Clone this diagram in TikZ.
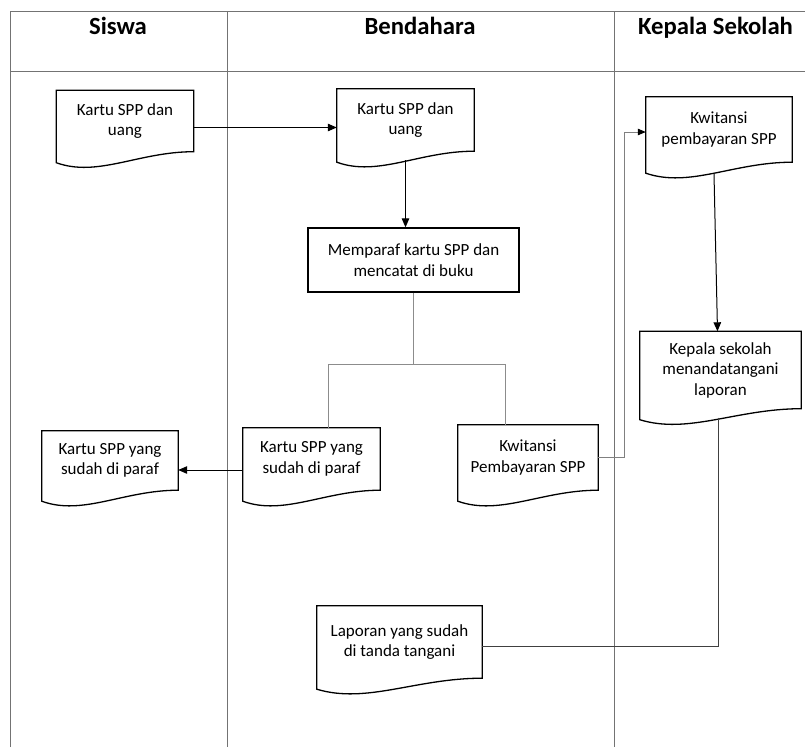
\documentclass[tikz,border=0pt]{standalone}
\usepackage{fontspec}
\setmainfont{Carlito}
\usetikzlibrary{arrows.meta,calc}
\tikzset{
  frameline/.style={draw=black!55,line width=0.9pt},
  docline/.style={draw=black,line width=1.3pt,line join=miter},
  doctext/.style={rectangle,draw=none,inner sep=0pt,align=center,font=\fontsize{17}{20.5}\selectfont},
  procbox/.style={rectangle,draw=black,line width=1.3pt,inner sep=0pt,align=center,font=\fontsize{17}{20.5}\selectfont},
  headtext/.style={anchor=base,font=\bfseries\fontsize{24.7}{29}\selectfont},
  arr/.style={draw=black,line width=1pt,-{Triangle[length=9pt,width=7.5pt]}},
  grayarr/.style={draw=black!50,line width=1pt,-{Triangle[length=8pt,width=6.5pt,color=black]}},
  branch/.style={draw=black!45,line width=0.9pt},
  plainline/.style={draw=black!75,line width=1pt}
}
\newcommand{\wavydoc}[1]{%
  \draw[docline] let \p1=(#1.south west), \p2=(#1.north east) in
    (\x1,\y1-11pt) -- (\x1,\y2) -- (\x2,\y2) -- (\x2,\y1)
    .. controls ({\x2-0.4*(\x2-\x1)},\y1) and ({\x1+0.3*(\x2-\x1)},\y1-26pt) .. (\x1,\y1-11pt) -- cycle;
}
\begin{document}
\begin{tikzpicture}[x=1pt,y=-1pt]
\useasboundingbox (0,0) rectangle (805,747);
% frame
\draw[frameline] (10,747) -- (10,11) -- (805,11);
\draw[frameline] (10,71) -- (805,71);
\draw[frameline] (227,11) -- (227,747);
\draw[frameline] (614,11) -- (614,747);
\node[headtext] (h1) at (118,34) {Siswa};
\node[headtext] (h2) at (420,34) {Bendahara};
\node[headtext] (h3) at (715.5,34) {Kepala Sekolah};
% documents
\node[doctext,minimum width=137pt,minimum height=61pt] (s1) at (125,121) {Kartu SPP dan\\uang};
\node[doctext,minimum width=137pt,minimum height=62pt] (b1) at (405.5,120) {Kartu SPP dan\\uang};
\node[procbox,minimum width=211pt,minimum height=64pt] (p1) at (413.5,260) {Memparaf kartu SPP dan\\mencatat di buku};
\node[doctext,minimum width=146pt,minimum height=65pt] (k1) at (719,129.5) {Kwitansi\\pembayaran SPP};
\node[doctext,minimum width=161pt,minimum height=77pt] (k2) at (720.5,370) {Kepala sekolah\\menandatangani\\laporan};
\node[doctext,minimum width=136pt,minimum height=59pt] (s2) at (110,460.5) {Kartu SPP yang\\sudah di paraf};
\node[doctext,minimum width=137pt,minimum height=62pt] (b2) at (311.5,459) {Kartu SPP yang\\sudah di paraf};
\node[doctext,minimum width=140pt,minimum height=65pt] (b3) at (528,457.5) {Kwitansi\\Pembayaran SPP};
\node[doctext,minimum width=165pt,minimum height=72pt] (b4) at (399.5,642) {Laporan yang sudah\\di tanda tangani};
\wavydoc{s1}
\wavydoc{b1}
\wavydoc{k1}
\wavydoc{k2}
\wavydoc{s2}
\wavydoc{b2}
\wavydoc{b3}
\wavydoc{b4}
% connectors
\draw[arr] ([yshift=-6.5pt]s1.east) -- ([yshift=-7.5pt]b1.west);
\draw[arr] ([yshift=-9pt]b1.south) -- (b1.south |- p1.north);
\coordinate (jl) at (328,364);
\coordinate (jr) at (505,364);
\draw[branch] (p1.south) -- (p1.south |- jl);
\draw[branch] (jl) -- (jr);
\draw[branch] (jl) -- (jl |- b2.north);
\draw[branch] (jr) -- (jr |- b3.north);
\draw[arr] ([yshift=-11pt]b2.west) -- ([yshift=-9.5pt]s2.east);
\draw[grayarr] (b3.east) -- ++(26,0) |- ([yshift=-2.5pt]k1.west);
\draw[arr] ([xshift=-5pt,yshift=-12pt]k1.south) -- ([xshift=-3pt]k2.north);
\draw[plainline] ([xshift=-2.5pt,yshift=-9pt]k2.south) |- ([yshift=-4pt]b4.east);
\end{tikzpicture}
\end{document}
